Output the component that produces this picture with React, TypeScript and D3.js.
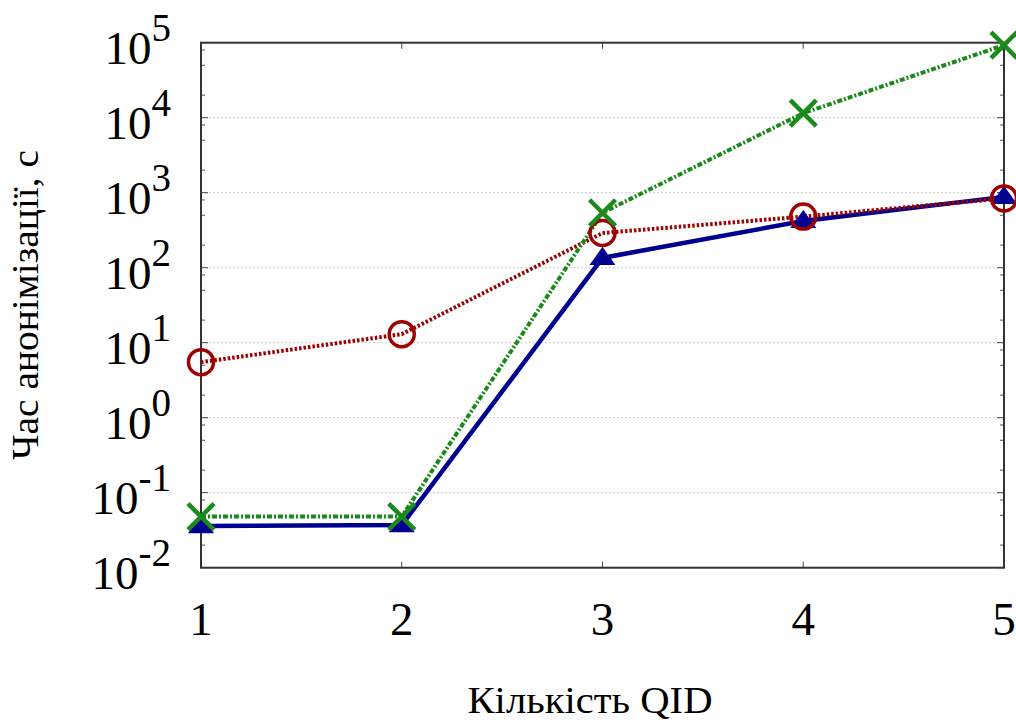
import React from "react";
import * as d3 from "d3";

// Number of quasi-identifiers on the x axis
const qidCounts = [1, 2, 3, 4, 5];
// Anonymization time, seconds, per method
const seriesTriangle = [0.036, 0.037, 135, 420, 880];
const seriesCircle = [5.5, 13, 290, 480, 840];
const seriesCross = [0.048, 0.048, 540, 11500, 93000];
// Decade ticks on the y axis
const yDecades = [-2, -1, 0, 1, 2, 3, 4, 5];
const minorFactors = [2, 5, 8];

const W = 1016;
const H = 726;
const m = { left: 201, right: 1004, top: 42.7, bottom: 567.7 };
const FONT = "Liberation Serif";

export default function App() {
  const x = d3.scaleLinear().domain([1, 5]).range([m.left, m.right]);
  const y = d3.scaleLog().domain([1e-2, 1e5]).range([m.bottom, m.top]);

  const line = d3
    .line<number>()
    .x((_, i) => x(qidCounts[i]))
    .y((d) => y(d));

  const minorTicks: number[] = [];
  for (let e = -2; e < 5; e++) {
    for (const f of minorFactors) minorTicks.push(f * Math.pow(10, e));
  }

  const tri = (cx: number, cy: number) => {
    const s = 13;
    return `M${cx},${cy - s * 0.85} L${cx + s},${cy + s * 0.55} L${cx - s},${cy + s * 0.55} Z`;
  };

  return (
    <svg
      width={W}
      height={H}
      style={{ position: "absolute", left: 0, top: 0, background: "#fff" }}
    >
      {/* horizontal grid at decades */}
      {yDecades.slice(1, -1).map((e) => (
        <line
          key={"g" + e}
          x1={m.left}
          x2={m.right}
          y1={y(Math.pow(10, e))}
          y2={y(Math.pow(10, e))}
          stroke="#c8c8c8"
          strokeWidth={1}
          strokeDasharray="2,2"
        />
      ))}

      {/* minor ticks on left and right */}
      {minorTicks.map((v, i) => (
        <g key={"mt" + i} stroke="#555" strokeWidth={1}>
          <line x1={m.left} x2={m.left + 4} y1={y(v)} y2={y(v)} />
          <line x1={m.right} x2={m.right - 4} y1={y(v)} y2={y(v)} />
        </g>
      ))}
      {/* major ticks */}
      {yDecades.map((e) => (
        <g key={"Mt" + e} stroke="#444" strokeWidth={1}>
          <line x1={m.left} x2={m.left + 7} y1={y(Math.pow(10, e))} y2={y(Math.pow(10, e))} />
          <line x1={m.right} x2={m.right - 7} y1={y(Math.pow(10, e))} y2={y(Math.pow(10, e))} />
        </g>
      ))}
      {qidCounts.map((q) => (
        <g key={"xt" + q} stroke="#444" strokeWidth={1}>
          <line x1={x(q)} x2={x(q)} y1={m.bottom} y2={m.bottom - 6} />
          <line x1={x(q)} x2={x(q)} y1={m.top} y2={m.top + 6} />
        </g>
      ))}

      {/* frame */}
      <rect
        x={m.left}
        y={m.top}
        width={m.right - m.left}
        height={m.bottom - m.top}
        fill="none"
        stroke="#333"
        strokeWidth={2}
      />

      {/* series lines */}
      <path d={line(seriesTriangle) || ""} fill="none" stroke="#000090" strokeWidth={4.5} />
      <path
        d={line(seriesCircle) || ""}
        fill="none"
        stroke="#a00000"
        strokeWidth={4}
        strokeDasharray="2.5,2"
      />
      <path
        d={line(seriesCross) || ""}
        fill="none"
        stroke="#1a8a1a"
        strokeWidth={4}
        strokeDasharray="5,2,2,2"
      />

      {/* markers */}
      {seriesTriangle.map((v, i) => (
        <path key={"tr" + i} d={tri(x(qidCounts[i]), y(v))} fill="#000090" />
      ))}
      {seriesCircle.map((v, i) => (
        <circle
          key={"ci" + i}
          cx={x(qidCounts[i])}
          cy={y(v)}
          r={12.5}
          fill="none"
          stroke="#a00000"
          strokeWidth={3.5}
        />
      ))}
      {seriesCross.map((v, i) => {
        const cx = x(qidCounts[i]);
        const cy = y(v);
        const s = 13;
        return (
          <g key={"cr" + i} stroke="#1a8a1a" strokeWidth={4.5}>
            <line x1={cx - s} y1={cy - s} x2={cx + s} y2={cy + s} />
            <line x1={cx - s} y1={cy + s} x2={cx + s} y2={cy - s} />
          </g>
        );
      })}

      {/* y tick labels */}
      {yDecades.map((e) => (
        <text
          key={"yl" + e}
          x={171}
          y={y(Math.pow(10, e)) + 21}
          textAnchor="end"
          fontSize={47}
          fontFamily={FONT}
          fill="#000"
        >
          10
          <tspan fontSize={39} dy={-23}>
            {String(e)}
          </tspan>
        </text>
      ))}

      {/* x tick labels */}
      {qidCounts.map((q) => (
        <text
          key={"xl" + q}
          x={x(q)}
          y={635}
          textAnchor="middle"
          fontSize={47}
          fontFamily={FONT}
          fill="#000"
        >
          {q}
        </text>
      ))}

      {/* axis titles */}
      <text
        x={590}
        y={713}
        textAnchor="middle"
        fontSize={38}
        fontFamily={FONT}
        fill="#000"
        textLength={245}
        lengthAdjust="spacingAndGlyphs"
      >
        Кількість QID
      </text>
      <text
        transform="translate(38,305) rotate(-90)"
        textAnchor="middle"
        fontSize={38}
        fontFamily={FONT}
        fill="#000"
        textLength={310}
        lengthAdjust="spacingAndGlyphs"
      >
        Час анонімізації, с
      </text>
    </svg>
  );
}
